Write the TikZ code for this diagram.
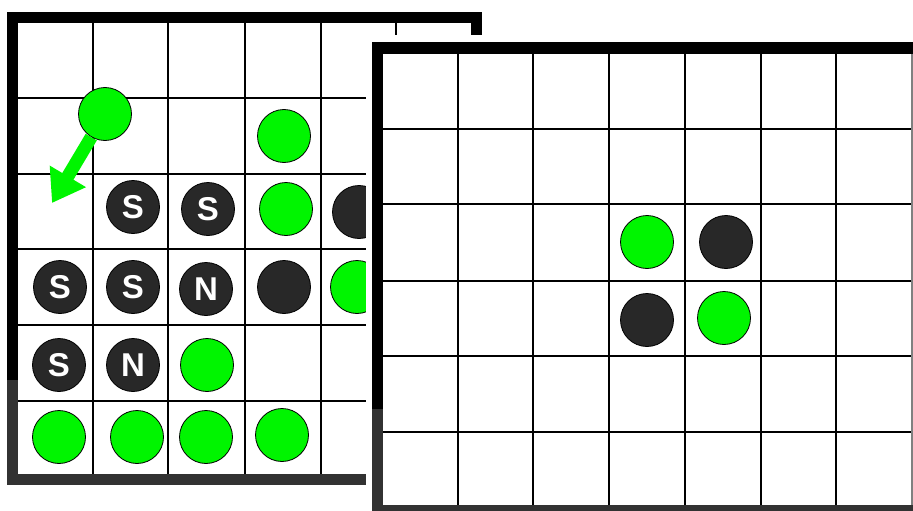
\documentclass[tikz,border=0pt]{standalone}
\usepackage{fontspec}
\setmainfont{Liberation Sans}
\usetikzlibrary{arrows.meta}
\definecolor{stonegreen}{RGB}{0,245,0}
\definecolor{stoneblack}{RGB}{40,40,40}
\definecolor{framegray}{RGB}{50,50,50}
\begin{document}
\begin{tikzpicture}[x=1pt,y=-1pt,
  piece/.style={circle,draw=black,line width=0.8pt,minimum size=53pt,inner sep=0pt,text=white,
    font=\fontsize{33pt}{33pt}\selectfont\bfseries},
  gpiece/.style={piece,fill=stonegreen},
  bpiece/.style={piece,fill=stoneblack},
  gridline/.style={line width=1.6pt}]
\clip (0,0) rectangle (913,511);
\fill[white] (0,0) rectangle (913,511);
% left board (the one being played)
\fill[black] (7,12) rectangle (482,23);
\fill[black] (7,12) rectangle (18,380);
\fill[framegray] (7,380) rectangle (18,485);
\fill[framegray] (7,474) rectangle (482,485);
\fill[black] (471,12) rectangle (482,474);
\foreach \x in {93,168,245,321,396} \draw[gridline] (\x,23) -- (\x,474);
\foreach \y in {98,174,249,325,401} \draw[gridline] (18,\y) -- (471,\y);
% stones
\node[gpiece] (drag) at (105,114) {};
\node[gpiece] (g24) at (284,136) {};
\node[bpiece] (s32) at (133,207) {S};
\node[bpiece] (s33) at (208,209) {S};
\node[gpiece] (g34) at (286,209) {};
\node[bpiece] (b35) at (359,212) {};
\node[bpiece] (s41) at (60,287) {S};
\node[bpiece] (s42) at (133,287) {S};
\node[bpiece] (n43) at (206,289) {N};
\node[bpiece] (b44) at (284,287) {};
\node[gpiece] (g45) at (357,287) {};
\node[bpiece] (s51) at (59,365) {S};
\node[bpiece] (n52) at (133,365) {N};
\node[gpiece] (g53) at (207,365) {};
\node[gpiece] (g61) at (59,437) {};
\node[gpiece] (g62) at (137,437) {};
\node[gpiece] (g63) at (206,437) {};
\node[gpiece] (g64) at (282,435) {};
% move arrow
\coordinate (drop) at (52,203);
\draw[stonegreen,line width=13pt,-{Triangle[width=40pt,length=31pt]}] (drag) -- (drop);
% right board (start position)
\fill[white] (366,35) rectangle (913,511);
\fill[black] (372,42) rectangle (930,54);
\fill[black] (372,42) rectangle (383,409);
\fill[framegray] (372,409) rectangle (383,520);
\fill[framegray] (372,505) rectangle (930,520);
\foreach \x in {458,533,609,685,761,836} \draw[gridline] (\x,54) -- (\x,505);
\foreach \y in {129,204,281,356,432} \draw[gridline] (383,\y) -- (912,\y);
\draw[gray,line width=1.2pt] (912,54) -- (912,505);
\node[gpiece] (c44) at (647,242) {};
\node[bpiece] (c45) at (726,242) {};
\node[bpiece] (c54) at (647,320) {};
\node[gpiece] (c55) at (724,318) {};
\end{tikzpicture}
\end{document}
